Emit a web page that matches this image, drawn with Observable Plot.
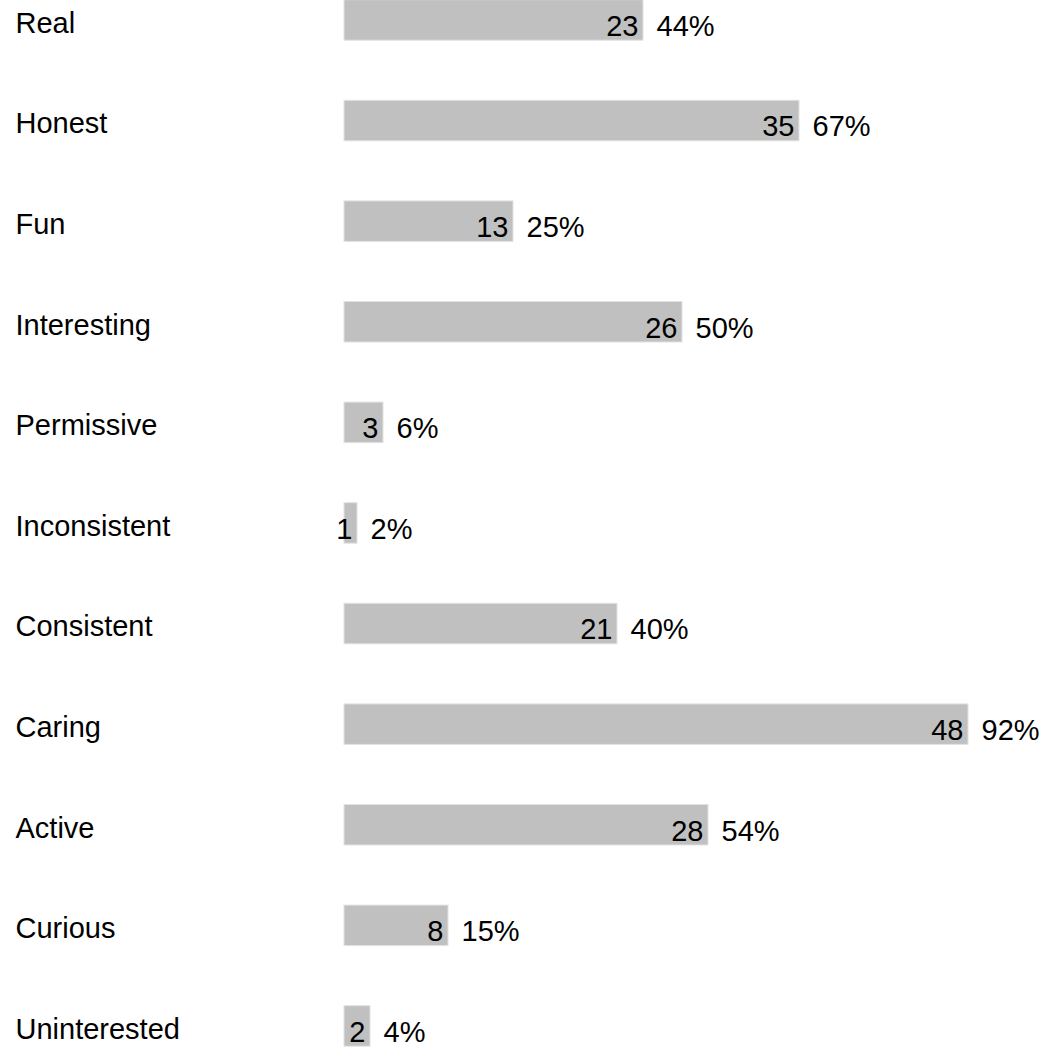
<!DOCTYPE html>
<html>
<head>
<meta charset="utf-8">
<script src="https://cdn.jsdelivr.net/npm/d3@7"></script>
<script src="https://cdn.jsdelivr.net/npm/@observablehq/plot@0.6"></script>
<style>
  html, body { margin: 0; padding: 0; background: #fff; }
  svg { display: block; }
</style>
</head>
<body>
<div id="chart"></div>
<script>
const categories = ["Real", "Honest", "Fun", "Interesting", "Permissive", "Inconsistent", "Consistent", "Caring", "Active", "Curious", "Uninterested"];
const counts = [23, 35, 13, 26, 3, 1, 21, 48, 28, 8, 2];
const percents = [44, 67, 25, 50, 6, 2, 40, 92, 54, 15, 4];

const data = categories.map((c, i) => ({ category: c, count: counts[i], pct: percents[i] }));

const step = 100.6;
const bandH = 40.5;
const pi = 1 - bandH / step;

const chart = Plot.plot({
  width: 1043,
  height: 1048,
  margin: 0,
  style: { fontFamily: "'Liberation Sans', Arial, sans-serif", background: "#fff" },
  x: { domain: [0, 48], range: [344, 968], axis: null },
  y: { domain: categories, range: [-0.3, -0.3 + step * (categories.length - pi)], paddingInner: pi, paddingOuter: 0, align: 0, round: false, axis: null },
  marks: [
    Plot.barX(data, { x: "count", y: "category", fill: "#c0c0c0", stroke: "#e2e2e2", strokeWidth: 1 }),
    Plot.text(data, { y: "category", text: "category", frameAnchor: "left", textAnchor: "start", dx: 15, dy: 3, fontSize: 29, fill: "#000" }),
    Plot.text(data, { x: "count", y: "category", text: d => String(d.count), textAnchor: "end", dx: -5, dy: 6, fontSize: 29, fill: "#000" }),
    Plot.text(data, { x: "count", y: "category", text: d => d.pct + "%", textAnchor: "start", dx: 13, dy: 6, fontSize: 29, fill: "#000" })
  ]
});
document.getElementById("chart").appendChild(chart);
</script>
</body>
</html>
